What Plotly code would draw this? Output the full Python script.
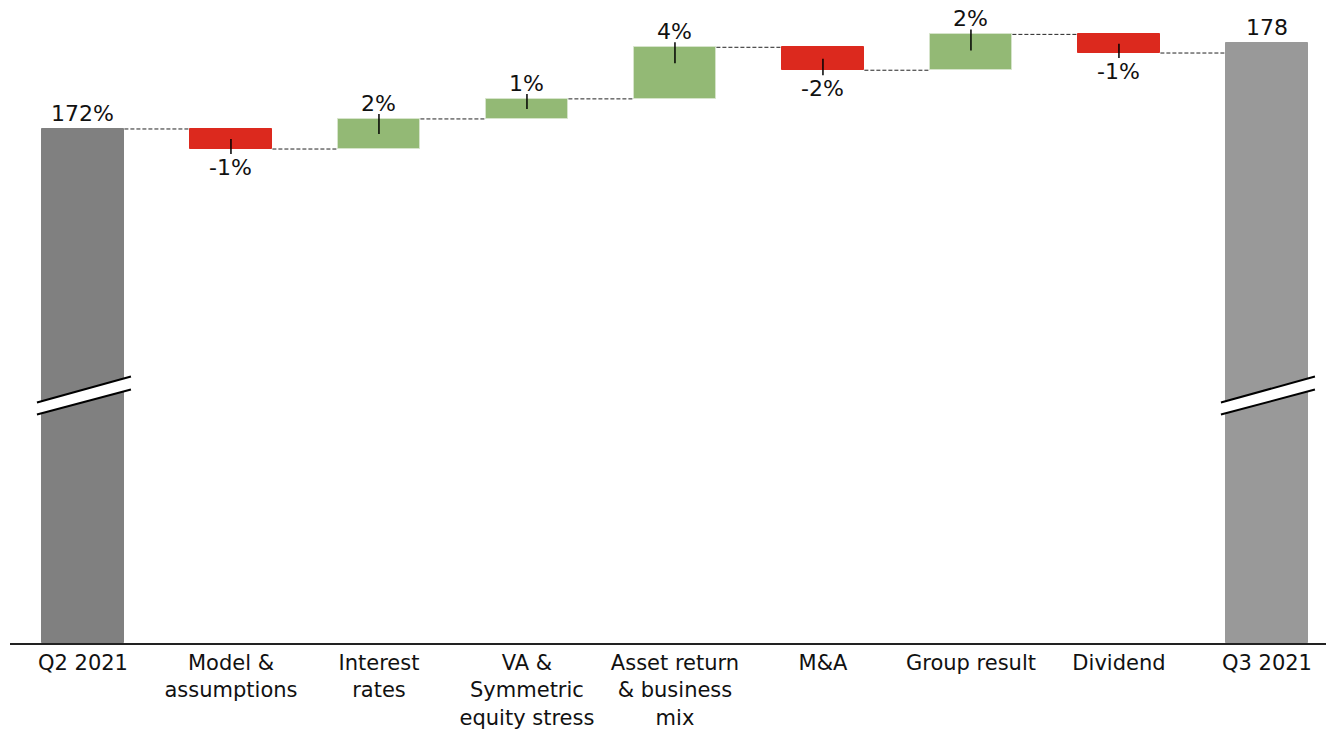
import plotly.graph_objects as go

# ---- data ----
categories = ["Q2 2021", "Model &<br>assumptions", "Interest<br>rates",
              "VA &<br>Symmetric<br>equity stress", "Asset return<br>& business<br>mix",
              "M&A", "Group result", "Dividend", "Q3 2021"]
start_value = 172.0
deltas = [-1.4, 2.1, 1.4, 3.6, -1.6, 2.5, -1.3]
end_value = 178.0
value_labels = ["172%", "-1%", "2%", "1%", "4%", "-2%", "2%", "-1%", "178"]

# ---- style ----
FONT = "DejaVu Sans"
FS = 21
LFS = 22
C_START = "#808080"
C_END = "#999999"
C_NEG = "#DC291E"
C_POS = "#93B975"
Y_MIN, Y_MAX = 136.13, 181.0
BREAK_AT = 153.4
BAR_W = 0.56
PLOT_H = 643
PX = PLOT_H / (Y_MAX - Y_MIN)

n = len(categories)
xs = list(range(n))

# compute bar geometry
bases, heights, colors, lines, ends = [], [], [], [], []
bases.append(Y_MIN); heights.append(start_value - Y_MIN); colors.append(C_START); lines.append(C_START)
level = start_value
ends.append(level)
for d in deltas:
    new = level + d
    bases.append(min(level, new))
    heights.append(abs(d))
    colors.append(C_POS if d >= 0 else C_NEG)
    lines.append("#D6E4CB" if d >= 0 else C_NEG)
    level = new
    ends.append(level)
bases.append(Y_MIN); heights.append(end_value - Y_MIN); colors.append(C_END); lines.append(C_END)

fig = go.Figure(go.Bar(
    x=xs, y=heights, base=bases, width=BAR_W,
    marker=dict(color=colors, line=dict(color=lines, width=1)),
    hoverinfo="skip",
))

shapes = []
annotations = []

# connectors
for i in range(n - 1):
    lvl = ends[i]
    shapes.append(dict(type="line", xref="x", yref="y",
                       x0=xs[i] + BAR_W / 2, x1=xs[i + 1] - BAR_W / 2, y0=lvl, y1=lvl,
                       line=dict(color="#222222", width=1, dash="4px,2px"), layer="below"))

# labels
tops = [start_value] + [None] * len(deltas) + [end_value]
for i in range(n):
    if i == 0 or i == n - 1:
        annotations.append(dict(x=xs[i], y=tops[i], xref="x", yref="y", text=value_labels[i],
                                showarrow=False, yanchor="bottom", yshift=1,
                                font=dict(family=FONT, size=LFS, color="#111")))
        continue
    d = deltas[i - 1]
    new = ends[i]
    inside = min(16, abs(d) * PX / 2)
    edge = new
    if d >= 0:
        shapes.append(dict(type="line", xref="x", yref="y", ysizemode="pixel", yanchor=edge,
                           x0=xs[i], x1=xs[i], y0=5, y1=-inside,
                           line=dict(color="black", width=1.5)))
        annotations.append(dict(x=xs[i], y=edge, xref="x", yref="y", text=value_labels[i],
                                showarrow=False, yanchor="bottom", yshift=1,
                                font=dict(family=FONT, size=LFS, color="#111")))
    else:
        shapes.append(dict(type="line", xref="x", yref="y", ysizemode="pixel", yanchor=edge,
                           x0=xs[i], x1=xs[i], y0=-5, y1=inside,
                           line=dict(color="black", width=1.5)))
        annotations.append(dict(x=xs[i], y=edge, xref="x", yref="y", text=value_labels[i],
                                showarrow=False, yanchor="top", yshift=-4,
                                font=dict(family=FONT, size=LFS, color="#111")))

# axis break marks on total bars
for i in (0, n - 1):
    shapes.append(dict(type="path", xref="x", yref="y", xsizemode="pixel", ysizemode="pixel",
                       xanchor=xs[i], yanchor=BREAK_AT,
                       path="M -46,-7 L 48,19 L 48,6 L -46,-19 Z",
                       fillcolor="white", line=dict(width=0)))
    for p in ("M -46,-7 L 48,19", "M -46,-19 L 48,6"):
        shapes.append(dict(type="path", xref="x", yref="y", xsizemode="pixel", ysizemode="pixel",
                           xanchor=xs[i], yanchor=BREAK_AT, path=p,
                           line=dict(color="black", width=2)))

fig.update_layout(
    width=1326, height=730,
    margin=dict(l=10, r=0, t=0, b=87, autoexpand=False),
    plot_bgcolor="white", paper_bgcolor="white",
    showlegend=False,
    font=dict(family=FONT, size=FS, color="#111"),
    shapes=shapes, annotations=annotations,
    xaxis=dict(range=[-0.493, 8.399], tickvals=xs, ticktext=categories,
               showgrid=False, zeroline=False, showline=True, linecolor="#222", linewidth=1.5,
               ticks="", automargin=False,
               tickfont=dict(family=FONT, size=FS, color="#111")),
    yaxis=dict(range=[Y_MIN, Y_MAX], visible=False, showgrid=False, zeroline=False),
    bargap=0,
)

fig.write_html("out.html")
